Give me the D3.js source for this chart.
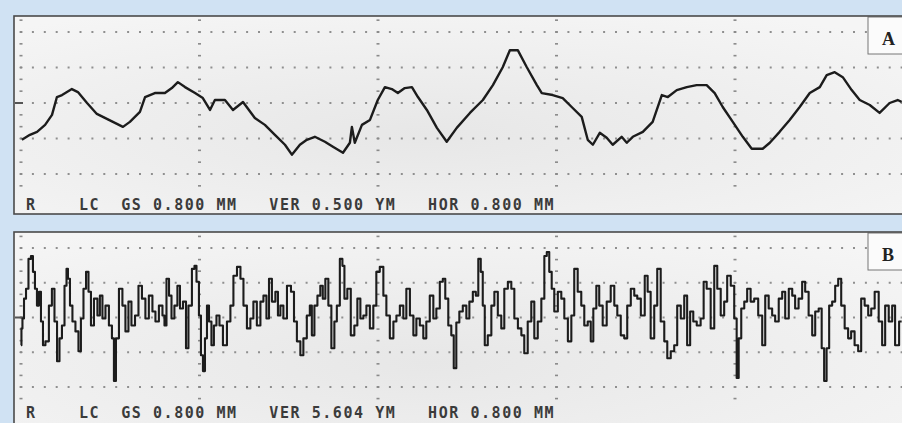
<!DOCTYPE html>
<html>
<head>
<meta charset="utf-8">
<script src="https://cdn.jsdelivr.net/npm/d3@7"></script>
<style>
  html, body { margin: 0; padding: 0; background: #d0e2f3; }
  svg { display: block; }
</style>
</head>
<body>
<div class="chart_box"></div>
<script>
// Profile A: position along trace (um) and height (nm), VER 0.500 um / division
const aPos = [4, 40, 72, 108, 139, 161, 184, 206, 228, 255, 296, 340, 376, 412, 457, 488, 533, 556,
  600, 645, 676, 703, 735, 780, 815, 847, 869, 914, 950, 995, 1048, 1093, 1138, 1183, 1214, 1250,
  1281, 1317, 1362, 1398, 1443, 1474, 1483, 1496, 1528, 1564, 1599, 1631, 1662, 1689, 1720, 1752,
  1779, 1819, 1864, 1908, 1953, 2012, 2070, 2115, 2159, 2191, 2227, 2267, 2312, 2334, 2383, 2428,
  2468, 2513, 2540, 2563, 2594, 2625, 2652, 2692, 2715, 2742, 2787, 2831, 2872, 2899, 2939, 2984,
  3028, 3073, 3109, 3145, 3190, 3235, 3275, 3324, 3356, 3400, 3445, 3490, 3535, 3580, 3611, 3647,
  3683, 3723, 3759, 3804, 3848, 3893, 3929, 3947];
const aHeight = [-518, -448, -406, -308, -168, 84, 112, 154, 196, 154, 0, -154, -210, -266, -336, -266,
  -126, 84, 140, 140, 210, 294, 224, 140, 70, -98, 42, 42, -98, 14, -210, -308, -448, -588, -728,
  -588, -518, -476, -546, -616, -700, -560, -336, -560, -308, -238, 42, 224, 196, 140, 210, 224, 84,
  -98, -350, -546, -350, -140, 42, 252, 504, 742, 742, 504, 252, 140, 112, 70, -56, -196, -518, -588,
  -420, -490, -588, -476, -560, -476, -406, -266, 112, 84, 182, 224, 252, 252, 140, -56, -266, -476,
  -644, -644, -560, -406, -238, -56, 140, 224, 392, 434, 364, 182, 42, -28, -140, 0, 42, 14];

// Profile B: position (um) and height (nm), VER 5.604 um / division
const bPos = [0, 4, 9, 18, 27, 40, 49, 58, 67, 76, 85, 94, 103, 116, 134, 143, 157, 166, 179, 188,
  202, 206, 215, 224, 237, 251, 264, 273, 287, 296, 309, 318, 336, 349, 358, 372, 385, 403, 412, 421,
  430, 448, 461, 475, 488, 502, 520, 533, 551, 564, 582, 596, 609, 627, 641, 645, 659, 668, 681, 694,
  708, 717, 735, 744, 757, 775, 780, 793, 802, 811, 820, 829, 838, 847, 860, 869, 883, 896, 914, 932,
  945, 959, 977, 990, 1004, 1021, 1035, 1048, 1066, 1080, 1093, 1107, 1116, 1133, 1147, 1156, 1169,
  1183, 1201, 1219, 1228, 1245, 1259, 1272, 1290, 1299, 1308, 1322, 1335, 1348, 1357, 1371, 1384,
  1398, 1411, 1420, 1438, 1443, 1456, 1469, 1487, 1501, 1514, 1528, 1541, 1555, 1572, 1586, 1599,
  1617, 1631, 1644, 1662, 1676, 1689, 1707, 1720, 1734, 1752, 1765, 1779, 1796, 1810, 1823, 1841,
  1855, 1868, 1886, 1895, 1908, 1922, 1935, 1944, 1958, 1971, 1989, 2003, 2016, 2034, 2043, 2056,
  2065, 2074, 2083, 2101, 2115, 2128, 2146, 2159, 2173, 2191, 2204, 2218, 2236, 2249, 2262, 2280,
  2294, 2307, 2325, 2339, 2352, 2361, 2374, 2383, 2397, 2415, 2428, 2442, 2460, 2473, 2486, 2504,
  2518, 2531, 2549, 2558, 2572, 2585, 2598, 2616, 2634, 2652, 2666, 2679, 2697, 2710, 2724, 2742,
  2755, 2769, 2787, 2804, 2813, 2831, 2845, 2858, 2876, 2890, 2903, 2921, 2934, 2948, 2966, 2979,
  2992, 3006, 3020, 3037, 3055, 3064, 3082, 3100, 3114, 3127, 3145, 3158, 3172, 3190, 3203, 3212,
  3221, 3235, 3248, 3261, 3279, 3293, 3315, 3329, 3342, 3360, 3373, 3387, 3405, 3418, 3432, 3450,
  3463, 3476, 3494, 3508, 3521, 3539, 3553, 3566, 3584, 3593, 3606, 3615, 3629, 3642, 3656, 3669,
  3683, 3700, 3714, 3727, 3745, 3759, 3772, 3790, 3804, 3817, 3835, 3853, 3866, 3880, 3898, 3911,
  3924, 3947];
const bHeight = [-4480, -1760, -160, 3040, 4640, 9440, 9920, 7360, 4640, 1920, 4160, -640, -4480,
  -3840, 1920, 4640, -640, -7040, -3360, -1280, 5120, 7840, 6240, 1920, -640, -2240, -5440, -160,
  4640, 7360, 4160, -1280, 3040, 320, 3520, -160, 1920, -1280, -3360, -10240, -3360, 4640, 1920,
  -2240, 2560, -1280, 320, 5120, 3040, -160, 3520, 960, -640, 1920, 320, -1280, 6240, 3520, -160,
  1920, 5120, 1440, 2560, -4960, 1920, 7840, 8320, 5760, 320, -6080, -8640, -3360, 1920, -640, -4480,
  -1280, 320, -1280, -4480, -640, 1920, 6720, 8160, 6240, 1920, -1760, -160, 2560, -1280, 2560, 3520,
  -160, 6240, 2560, 4160, 320, 1920, -160, 5120, 4160, -640, -3840, -6080, -3360, 320, 1920, -2880,
  1920, 3520, 5120, 3040, 6240, 1920, -4960, -640, 1920, 9440, 8320, 3040, 4640, -2880, -1280, 3040,
  -160, 320, 1920, -1760, 1920, 7360, 8160, 3520, 320, -3360, -640, 320, 1920, -160, 4640, 320,
  -2880, -160, -1280, -3360, -640, 3520, -160, 1440, 5760, 6240, 3040, -1280, -2880, -8160, -800,
  960, 1920, -160, 2560, 4160, 3520, 9440, 7360, 1920, -4480, -2880, 1920, 4160, 320, -1760, 4640,
  5760, 4640, -160, -1760, -2880, -5760, -640, 2560, -3360, -640, 3040, 9920, 10560, 7360, 4640, 960,
  4160, 3040, -160, -3840, 320, 7840, 4160, 1920, -1280, -640, -3840, 1440, 5120, 1920, -1280, 2560,
  5120, 1920, 320, -2880, -3360, 1920, 4640, 3520, 3040, 320, 6720, 4160, -3360, 1920, 7840, -640,
  -3840, -6560, -5440, -4480, 1920, -160, 3520, -4480, 960, -640, -1280, -160, 5760, 4640, -1760,
  8320, 4640, 320, 2560, 6720, 5120, -160, -9760, -3360, 1440, 2560, 4640, 2560, 3040, 320, -4480,
  3520, 1440, 320, -640, 3040, 4160, -160, 4640, 3520, 1440, 3040, 5760, 4160, 320, -2880, 960,
  1440, -4960, -10240, -4960, 1920, 2560, 5120, 6240, 1920, -1760, -3360, -2240, -4480, -5440, 3040,
  1920, 320, 1440, 4160, -640, -4480, 1920, -640, 1920, -4480, -640];

// Status lines and panel labels
const labels = ["A", "B"];
const statusA = "R    LC  GS 0.800 MM   VER 0.500 YM   HOR 0.800 MM";
const statusB = "R    LC  GS 0.800 MM   VER 5.604 YM   HOR 0.800 MM";

const width = 902;
const height = 423;

const svg = d3
  .select(".chart_box")
  .append("svg")
  .attr("width", width)
  .attr("height", height);

svg.append("rect")
  .attr("width", width)
  .attr("height", height)
  .attr("fill", "#d0e2f3");

// mottled paper look of the instrument screen
const defs = svg.append("defs");
const grad = defs.append("radialGradient")
  .attr("id", "paper")
  .attr("cx", "45%").attr("cy", "60%").attr("r", "70%");
grad.append("stop").attr("offset", "0%").attr("stop-color", "#e7e7e7");
grad.append("stop").attr("offset", "100%").attr("stop-color", "#f5f5f5");

// horizontal scale, 800 um per division
const xScale = d3.scaleLinear().domain([0, 4000]).range([21, 913.5]);
const hDiv = 800;

const panels = [
  {
    top: 16, bottom: 214,
    y: d3.scaleLinear().domain([-1000, 1000]).range([174, 32]),
    vDiv: 500, pos: aPos, h: aHeight, label: labels[0], status: statusA,
    textY: 210, stroke: 2.4, curve: d3.curveLinear
  },
  {
    top: 232, bottom: 450,
    y: d3.scaleLinear().domain([-11200, 11200]).range([387, 248]),
    vDiv: 5600, pos: bPos, h: bHeight, label: labels[1], status: statusB,
    textY: 418, stroke: 2.1, curve: d3.curveStep
  }
];

panels.forEach((p, i) => {
  const g = svg.append("g");

  // screen background
  g.append("rect")
    .attr("x", 14)
    .attr("y", p.top)
    .attr("width", 920)
    .attr("height", p.bottom - p.top)
    .attr("fill", "url(#paper)");

  // dotted horizontal grid (15 dots per division)
  const dotsX = d3.range(0, 4000.1, hDiv / 15).map(xScale);
  [-2, -1, 0, 1, 2].forEach((k) => {
    g.selectAll(null)
      .data(dotsX)
      .enter()
      .append("rect")
      .attr("x", (d) => d - 1)
      .attr("y", p.y(k * p.vDiv) - 1)
      .attr("width", 2)
      .attr("height", 2)
      .attr("fill", "#8f8f8f");
  });

  // vertical grid: columns of small tick marks, 3 per division
  const ticksY = d3.range(-7, 8).map((k) => p.y((k * p.vDiv) / 3));
  [0, 1, 2, 3, 4].forEach((c) => {
    const cx = xScale(c * hDiv);
    g.selectAll(null)
      .data(ticksY)
      .enter()
      .append("rect")
      .attr("x", cx - 1.5)
      .attr("y", (d) => d - 0.8)
      .attr("width", 3)
      .attr("height", 1.6)
      .attr("fill", "#8a8a8a");
  });

  // zero marker on the left edge
  g.append("rect")
    .attr("x", 15)
    .attr("y", p.y(0) - 1)
    .attr("width", 8)
    .attr("height", 2)
    .attr("fill", "#555");

  // the profile trace
  const clipId = "clip" + i;
  defs.append("clipPath")
    .attr("id", clipId)
    .append("rect")
    .attr("x", 15)
    .attr("y", p.top + 1)
    .attr("width", 900)
    .attr("height", p.bottom - p.top - 2);

  const line = d3.line()
    .curve(p.curve)
    .x((d) => xScale(d[0]))
    .y((d) => p.y(d[1]));

  g.append("path")
    .datum(d3.zip(p.pos, p.h))
    .attr("clip-path", `url(#${clipId})`)
    .attr("d", line)
    .attr("fill", "none")
    .attr("stroke", "#1c1c1c")
    .attr("stroke-width", p.stroke)
    .attr("stroke-linejoin", "round");

  // status text
  g.append("text")
    .attr("x", 26)
    .attr("y", p.textY)
    .style("white-space", "pre")
    .attr("font-family", "'DejaVu Sans Mono', monospace")
    .attr("font-size", 15)
    .attr("font-weight", "bold")
    .attr("letter-spacing", 1.55)
    .attr("fill", "#3b3b3b")
    .text(p.status);

  // panel label box
  g.append("rect")
    .attr("x", 868)
    .attr("y", p.top + 1)
    .attr("width", 40)
    .attr("height", 37)
    .attr("fill", "#fbfbfb")
    .attr("stroke", "#777")
    .attr("stroke-width", 1);

  g.append("text")
    .attr("x", 882)
    .attr("y", p.top + 29)
    .attr("font-family", "'Liberation Serif', serif")
    .attr("font-size", 18)
    .attr("font-weight", "bold")
    .attr("fill", "#222")
    .text(p.label);

  // screen frame
  g.append("rect")
    .attr("x", 14)
    .attr("y", p.top)
    .attr("width", 920)
    .attr("height", p.bottom - p.top)
    .attr("fill", "none")
    .attr("stroke", "#4a4a4a")
    .attr("stroke-width", 1.6);
});
</script>
</body>
</html>
